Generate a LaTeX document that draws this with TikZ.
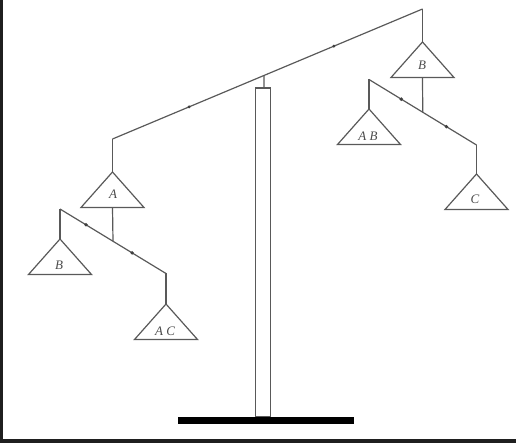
\documentclass[tikz,border=0pt]{standalone}
\usepackage{fontspec}
\setmainfont{Liberation Serif}
\usetikzlibrary{calc}
\begin{document}
\begin{tikzpicture}[x=1pt,y=-1pt,
  ln/.style={draw=black!65, line width=1.2pt},
  tri/.style={draw=black!65, line width=1.2pt, line join=miter},
  lbl/.style={font=\fontsize{13}{13}\selectfont\itshape, text=black!70, inner sep=0pt},
  dot/.style={fill=black!75},
  weight/.pic={\draw[tri] (0,0) coordinate (-apex) -- (-31.5,35.5) -- (31.5,35.5) -- cycle;
               \coordinate (-base) at (0,35.5);}]
\useasboundingbox (0,0) rectangle (516,443);
\fill[black!88] (0,0) rectangle (3,443);
\fill[black!88] (0,438.5) rectangle (516,443);

% stand
\draw[ln] (255.5,88) rectangle (270.5,417);
\fill[black] (178,416.5) rectangle (354,424);

% main beam
\coordinate (mL) at (112.5,139);
\coordinate (mR) at (422.5,9);
\draw[ln] (mL) -- (mR);
\coordinate (piv) at ($(mL)!0.489!(mR)$);
\draw[ln] (piv) -- (264,88);
\fill[dot] ($(mL)!0.247!(mR)$) circle (1.6);
\fill[dot] ($(mL)!0.714!(mR)$) circle (1.6);

% weights
\pic (wA) at (112.5,172) {weight};
\pic (wB) at (422.5,42) {weight};
\pic (wBl) at (60,239) {weight};
\pic (wAC) at (166,304) {weight};
\pic (wAB) at (369,109) {weight};
\pic (wC) at (476.5,174) {weight};

\node[lbl] (tA) at (113,194.5) {A};
\node[lbl] (tB) at (422,65.5) {B};
\node[lbl] (tBl) at (59,265) {B};
\node[lbl] (tAC) at (165,331) {A C};
\node[lbl] (tAB) at (368,136.5) {A B};
\node[lbl] (tC) at (475,199) {C};

\draw[ln] (mL) -- (wA-apex);
\draw[ln] (mR) -- (wB-apex);

% left sub-beam
\coordinate (lL) at (60,209);
\coordinate (lR) at (166,273.5);
\draw[ln] (lL) -- (lR);
\draw[ln] (wA-base) -- ($(lL)!0.5!(lR)$ -| wA-base);
\draw[ln] (lL) -- (wBl-apex);
\draw[ln] (lR) -- (wAC-apex);
\fill[dot] ($(lL)!0.245!(lR)$) circle (1.9);
\fill[dot] ($(lL)!0.68!(lR)$) circle (1.9);

% right sub-beam
\coordinate (rL) at (369,79.5);
\coordinate (rR) at (476.5,145);
\draw[ln] (rL) -- (rR);
\draw[ln] (wB-base) -- ($(rL)!0.5!(rR)$ -| wB-base);
\draw[ln] (rL) -- (wAB-apex);
\draw[ln] (rR) -- (wC-apex);
\fill[dot] ($(rL)!0.3!(rR)$) circle (1.9);
\fill[dot] ($(rL)!0.72!(rR)$) circle (1.9);
\end{tikzpicture}
\end{document}
